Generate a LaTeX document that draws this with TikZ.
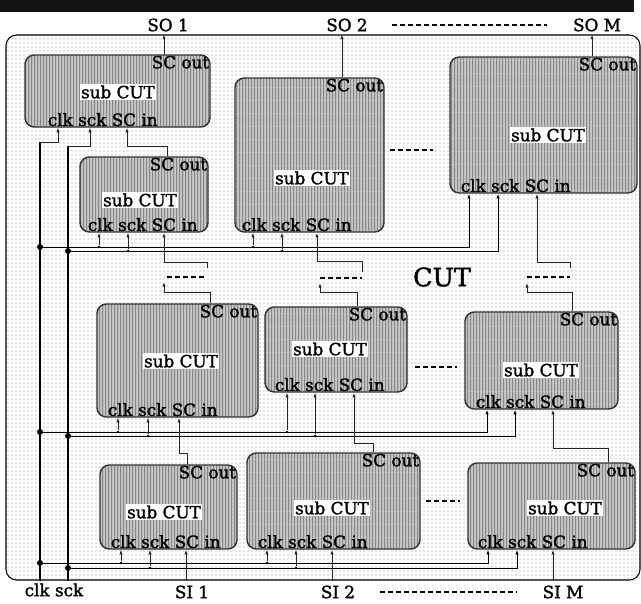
\documentclass[tikz,border=0pt]{standalone}
\usepackage{fontspec}
\setmainfont{DejaVu Serif}
\newfontfamily\lblfont{DejaVu Serif}[FakeBold=1.6]
\usepackage{tikz}
\usetikzlibrary{arrows.meta,positioning,fit,calc,patterns}
\definecolor{edge}{HTML}{333333}
\definecolor{wire}{HTML}{262626}
\pgfdeclarepatternformonly{vstripes}{\pgfpointorigin}{\pgfpoint{2.4pt}{10pt}}%
  {\pgfpoint{2.4pt}{10pt}}%
  {\pgfpathrectangle{\pgfpointorigin}{\pgfpoint{1pt}{10pt}}\pgfusepath{fill}}
\tikzset{
  cutbox/.style={
    rectangle, rounded corners=8pt, draw=black, line width=0.8pt,
    preaction={fill=white}, pattern=dots, pattern color=black!45,
    inner sep=0pt
  },
  subcut/.style={
    rectangle, rounded corners=7pt, draw=edge, line width=1.1pt,
    preaction={fill=black!22}, pattern=vstripes,
    pattern color=black!48, inner sep=0pt
  },
  lbl/.style={font=\lblfont\fontsize{12.6pt}{14pt}\selectfont, inner sep=1pt},
  outlbl/.style={lbl, anchor=north east},
  inlbl/.style={lbl, anchor=south west},
  namelbl/.style={lbl, fill=white},
  trunk/.style={line width=1.2pt, draw=black},
  bus/.style={-{Latex[length=3.5pt,width=2.5pt]}, line width=0.7pt, draw=black},
  tap/.style={-{Latex[length=3.5pt,width=2.5pt]}, line width=0.6pt, draw=wire},
  chain/.style={-{Latex[length=3.5pt,width=2.5pt]}, line width=0.7pt, draw=wire},
  gap/.style={line width=1.1pt, dash pattern=on 3.5pt off 2.5pt},
  bigdot/.style={circle, fill=black, inner sep=0pt, minimum size=4.5pt},
  smalldot/.style={circle, fill=black, inner sep=0pt, minimum size=2.2pt},
}

\begin{document}
\begin{tikzpicture}[x=0.75pt, y=-0.75pt]
\useasboundingbox (0,0) rectangle (641,603);
\fill[black!92] (0,0) rectangle (634,12);
\node[cutbox, fit={(6,35) (640,580)}] (cut) {};
\node[font=\lblfont\fontsize{19pt}{22pt}\selectfont] (cutname) at (442,277) {CUT};

% sub CUTs
\node[subcut, fit={(25,55) (210,127)}] (top1) {};
\node[subcut, fit={(80,157) (208,232)}] (top1b) {};
\node[subcut, fit={(235,78) (384,232)}] (top2) {};
\node[subcut, fit={(450,57) (637,193)}] (topM) {};
\node[subcut, fit={(97,304) (258,417)}] (mid1) {};
\node[subcut, fit={(265,307) (407,392)}] (mid2) {};
\node[subcut, fit={(465,312) (618,409)}] (midM) {};
\node[subcut, fit={(100,465) (237,549)}] (bot1) {};
\node[subcut, fit={(247,453) (420,549)}] (bot2) {};
\node[subcut, fit={(468,463) (635,549)}] (botM) {};

\node[outlbl] (top1-out) at (top1.north east) {SC out};
\node[outlbl] (top1b-out) at (top1b.north east) {SC out};
\node[outlbl] (top2-out) at (top2.north east) {SC out};
\node[outlbl] (topM-out) at (topM.north east) {SC out};
\node[outlbl] (mid1-out) at (mid1.north east) {SC out};
\node[outlbl] (mid2-out) at (mid2.north east) {SC out};
\node[outlbl] (midM-out) at (midM.north east) {SC out};
\node[outlbl] (bot1-out) at (bot1.north east) {SC out};
\node[outlbl] (bot2-out) at (bot2.north east) {SC out};
\node[outlbl] (botM-out) at (botM.north east) {SC out};

\node[namelbl] (top1-name) at (118,92) {sub CUT};
\node[namelbl] (top1b-name) at (140,200) {sub CUT};
\node[namelbl] (top2-name) at (312,178) {sub CUT};
\node[namelbl] (topM-name) at (548,135) {sub CUT};
\node[namelbl] (mid1-name) at (181,361) {sub CUT};
\node[namelbl] (mid2-name) at (330,349) {sub CUT};
\node[namelbl] (midM-name) at (541,370) {sub CUT};
\node[namelbl] (bot1-name) at (164,512) {sub CUT};
\node[namelbl] (bot2-name) at (332,508) {sub CUT};
\node[namelbl] (botM-name) at (565,508) {sub CUT};

\node[inlbl] (top1-in) at ($(top1.south west)+(22,0)$) {clk sck SC in};
\node[inlbl] (top1b-in) at ($(top1b.south west)+(7,0)$) {clk sck SC in};
\node[inlbl] (top2-in) at ($(top2.south west)+(6,0)$) {clk sck SC in};
\node[inlbl] (topM-in) at ($(topM.south west)+(10,0)$) {clk sck SC in};
\node[inlbl] (mid1-in) at ($(mid1.south west)+(10,0)$) {clk sck SC in};
\node[inlbl] (mid2-in) at ($(mid2.south west)+(9,0)$) {clk sck SC in};
\node[inlbl] (midM-in) at ($(midM.south west)+(10,0)$) {clk sck SC in};
\node[inlbl] (bot1-in) at ($(bot1.south west)+(10,0)$) {clk sck SC in};
\node[inlbl] (bot2-in) at ($(bot2.south west)+(10,0)$) {clk sck SC in};
\node[inlbl] (botM-in) at ($(botM.south west)+(9,0)$) {clk sck SC in};

% clk / sck trunks
\coordinate (clkin) at (cut.south -| 40,0);
\coordinate (sckin) at (cut.south -| 68,0);
\coordinate (clktop) at (40,142);
\coordinate (scktop) at (68,146);
\draw[trunk] (clkin) -- (clktop);
\draw[trunk] (sckin) -- (scktop);
\draw[tap] (clktop) -| (top1.south -| 58,0);
\draw[tap] (scktop) -| (top1.south -| 90,0);
\node[lbl, below=1pt of $(clkin)!0.5!(sckin)$] (clksck) {clk sck};

% buses
\node[bigdot] (c1) at (40,247) {};
\node[bigdot] (s1) at (68,251) {};
\node[bigdot] (c2) at (40,432) {};
\node[bigdot] (s2) at (68,436) {};
\node[bigdot] (c3) at (40,563) {};
\node[bigdot] (s3) at (68,568) {};
\draw[bus] (c1.center) -| (topM.south -| 469,0);
\draw[bus] (s1.center) -| (topM.south -| 498,0);
\draw[bus] (c2.center) -| (midM.south -| 487,0);
\draw[bus] (s2.center) -| (midM.south -| 515,0);
\draw[bus] (c3.center) -| (botM.south -| 488,0);
\draw[bus] (s3.center) -| (botM.south -| 517,0);

\node[smalldot] (t1a) at (99,247) {};
\node[smalldot] (t1b) at (128,251) {};
\node[smalldot] (t2a) at (253,247) {};
\node[smalldot] (t2b) at (282,251) {};
\node[smalldot] (t3a) at (118,432) {};
\node[smalldot] (t3b) at (148,436) {};
\node[smalldot] (t4a) at (287,432) {};
\node[smalldot] (t4b) at (315,436) {};
\node[smalldot] (t5a) at (121,563) {};
\node[smalldot] (t5b) at (150,568) {};
\node[smalldot] (t6a) at (267,563) {};
\node[smalldot] (t6b) at (296,568) {};
\draw[tap] (t1a) -- (top1b.south -| t1a);
\draw[tap] (t1b) -- (top1b.south -| t1b);
\draw[tap] (t2a) -- (top2.south -| t2a);
\draw[tap] (t2b) -- (top2.south -| t2b);
\draw[tap] (t3a) -- (mid1.south -| t3a);
\draw[tap] (t3b) -- (mid1.south -| t3b);
\draw[tap] (t4a) -- (mid2.south -| t4a);
\draw[tap] (t4b) -- (mid2.south -| t4b);
\draw[tap] (t5a) -- (bot1.south -| t5a);
\draw[tap] (t5b) -- (bot1.south -| t5b);
\draw[tap] (t6a) -- (bot2.south -| t6a);
\draw[tap] (t6b) -- (bot2.south -| t6b);

% scan chains
\draw[chain] (top1.north -| 164,0) -- (cut.north -| 164,0);
\draw[chain] (top2.north -| 342,0) -- (cut.north -| 342,0);
\draw[chain] (topM.north -| 592,0) -- (cut.north -| 592,0);
\draw[chain] (top1b.north -| 167,0) |- (127,146) -- (top1.south -| 127,0);

\coordinate (g1in) at (207,268);
\coordinate (g1out) at (164,282);
\coordinate (g2in) at (362,272);
\coordinate (g2out) at (320,283);
\coordinate (gMin) at (570,268);
\coordinate (gMout) at (527,283);
\draw[chain] (g1in) |- (164,262) -- (top1b.south -| 164,0);
\draw[gap] (167,277) -- (207,277);
\draw[chain] (mid1.north -| 210,0) |- (164,292) -- (g1out);
\draw[chain] (g2in) |- (317,261) -- (top2.south -| 317,0);
\draw[gap] (320,278) -- (362,278);
\draw[chain] (mid2.north -| 357,0) |- (320,292) -- (g2out);
\draw[chain] (gMin) |- (537,262) -- (topM.south -| 537,0);
\draw[gap] (527,277) -- (570,277);
\draw[chain] (midM.north -| 572,0) |- (527,292) -- (gMout);

\draw[chain] (bot1.north -| 187,0) |- (179,453) -- (mid1.south -| 179,0);
\draw[chain] (bot2.north -| 373,0) |- (354,443) -- (mid2.south -| 354,0);
\draw[chain] (botM.north -| 608,0) |- (553,448) -- (midM.south -| 553,0);

\draw[chain] (cut.south -| 186,0) -- (bot1.south -| 186,0);
\draw[chain] (cut.south -| 332,0) -- (bot2.south -| 332,0);
\draw[chain] (cut.south -| 553,0) -- (botM.south -| 553,0);

% dots between columns
\draw[gap] (390,150) -- (433,150);
\draw[gap] (415,367) -- (457,367);
\draw[gap] (426,501) -- (460,501);

% scan outputs / inputs
\node[lbl] (so1) at (168,25) {SO 1};
\node[lbl] (so2) at (347,25) {SO 2};
\node[lbl] (soM) at (597,25) {SO M};
\draw[gap] (392,25) -- (547,25);
\node[lbl] (si1) at (192,592) {SI 1};
\node[lbl] (si2) at (338,592) {SI 2};
\node[lbl] (siM) at (563,592) {SI M};
\draw[gap] (380,592) -- (517,592);
\end{tikzpicture}
\end{document}
